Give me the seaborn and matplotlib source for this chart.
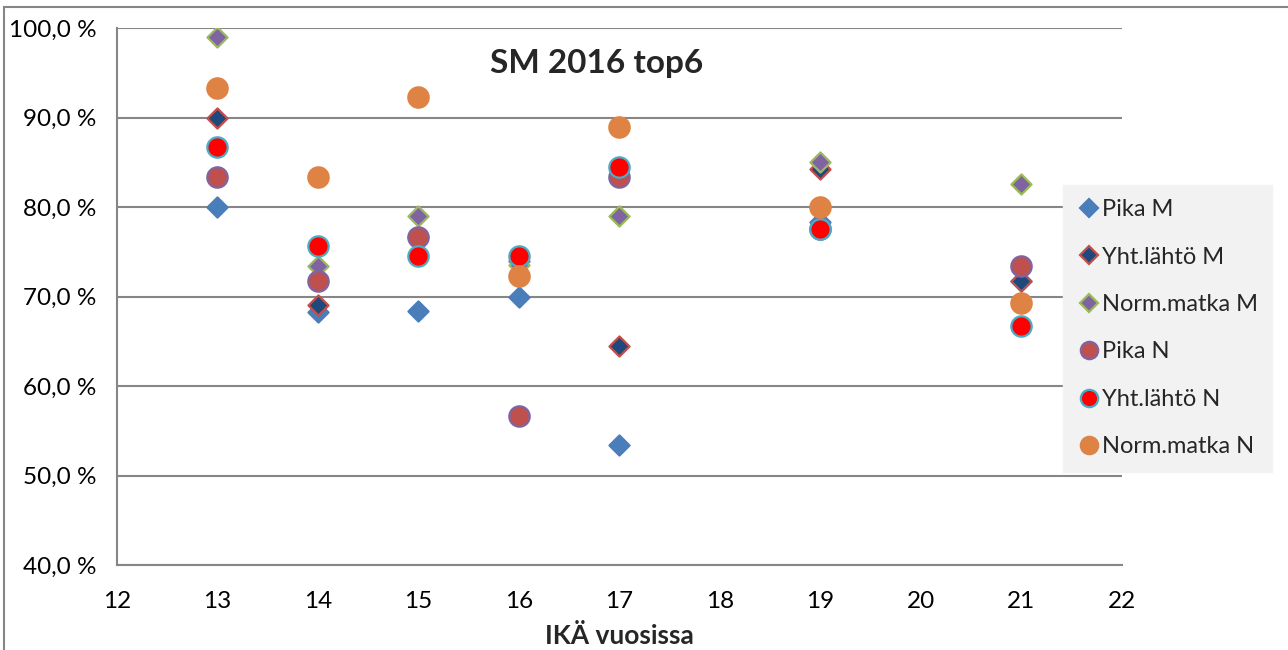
import matplotlib.pyplot as plt
import matplotlib.patches as mpatches
import numpy as np
import pandas as pd
import seaborn as sns
from matplotlib.ticker import FuncFormatter

sns.set_theme(style="white")
plt.rcParams["font.family"] = ["Lato", "DejaVu Sans"]

# ikä (vuotta)
ika = [13, 14, 15, 16, 17, 19, 21]

# osuudet prosentteina
pika_m = [80.0, 68.3, 68.4, 70.0, 53.4, 78.3, 71.7]
yht_m = [90.0, 69.0, 76.7, 74.0, 64.5, 84.2, 71.7]
norm_m = [99.0, 73.4, 79.0, 73.5, 79.0, 85.0, 82.6]
pika_n = [83.4, 71.7, 76.7, 56.7, 83.4, 77.5, 73.4]
yht_n = [86.7, 75.6, 74.5, 74.5, 84.5, 77.5, 66.7]
norm_n = [93.3, 83.4, 92.3, 72.3, 88.9, 80.0, 69.3]

sarjat = ["Pika M", "Yht.lähtö M", "Norm.matka M", "Pika N", "Yht.lähtö N", "Norm.matka N"]
arvot = [pika_m, yht_m, norm_m, pika_n, yht_n, norm_n]

# (merkki, täyttö, reuna, koko)
tyylit = [
    ("D", "#4A7EBB", "#4A7EBB", 105),
    ("D", "#1F497D", "#C0504D", 105),
    ("D", "#8064A2", "#9BBB59", 105),
    ("o", "#C0504D", "#8064A2", 215),
    ("o", "#FF0000", "#4BACC6", 215),
    ("o", "#DE8344", "#DE8344", 215),
]

df = pd.DataFrame({"ika": ika})
for nimi, v in zip(sarjat, arvot):
    df[nimi] = v

fig = plt.figure(figsize=(12.88, 6.5), dpi=100)
ax = fig.add_axes([117 / 1288, 1 - 565 / 650, (1122 - 117) / 1288, (565 - 28) / 650])

kahvat = []
for nimi, (m, fc, ec, s) in zip(sarjat, tyylit):
    sns.scatterplot(data=df, x="ika", y=nimi, marker=m, color=fc, edgecolor=ec,
                    s=s, linewidth=1.6, ax=ax, zorder=3)
    kahvat.append(plt.Line2D([], [], linestyle="none", marker=m, markerfacecolor=fc,
                             markeredgecolor=ec, markeredgewidth=1.6,
                             markersize=9 if m == "D" else 12.5))

ax.set_xlim(12, 22)
ax.set_ylim(40, 100)
ax.set_xticks(range(12, 23))
ax.set_yticks(range(40, 101, 10))
ax.yaxis.set_major_formatter(FuncFormatter(lambda v, p: f"{v:.1f} %".replace(".", ",")))

ax.grid(True, axis="y", color="#868686", linewidth=1.5)
ax.set_axisbelow(True)
for k in ["top", "right"]:
    ax.spines[k].set_visible(False)
for k in ["left", "bottom"]:
    ax.spines[k].set_color("#868686")
    ax.spines[k].set_linewidth(1.5)

ax.tick_params(axis="both", which="major", labelsize=17.5, colors="#868686",
               labelcolor="black", length=5, width=1.5, direction="out")
ax.tick_params(axis="y", pad=10)
ax.tick_params(axis="x", pad=14)
ax.set_xlabel("IKÄ vuosissa", fontsize=19, fontweight="bold", labelpad=8)
ax.set_ylabel("")

fig.text(597 / 1288, 1 - 63 / 650, "SM 2016 top6", fontsize=24, fontweight="bold",
         ha="center", va="center")

leg = fig.legend(kahvat, sarjat, loc="upper left", bbox_to_anchor=(1063 / 1288, 1 - 185 / 650),
                 borderaxespad=0, frameon=True, fancybox=False, fontsize=17,
                 labelspacing=1.12, handletextpad=0.05, handlelength=1.0,
                 borderpad=0.6, facecolor="#F2F2F2", edgecolor="#F2F2F2", framealpha=1)
leg.set_zorder(5)

# ulkoreunus
fig.patches.append(mpatches.Rectangle((4 / 1288, -0.05), 1.0, 1 - 7 / 650 + 0.05,
                                      transform=fig.transFigure, fill=False,
                                      edgecolor="#868686", linewidth=1.5))

plt.savefig("out.png", dpi=100)
plt.close(fig)
